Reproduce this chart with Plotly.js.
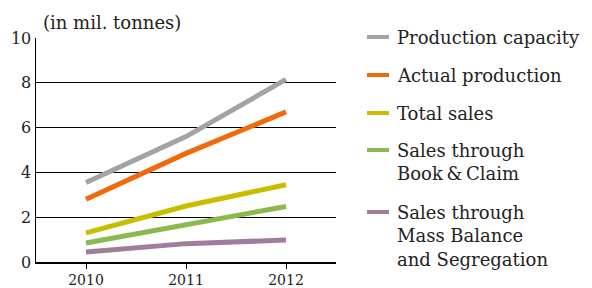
<!DOCTYPE html>
<html><head><meta charset="utf-8">
<script src="https://cdn.plot.ly/plotly-3.0.1.min.js"></script>
<style>body{margin:0;background:#fff}#c{width:592px;height:288px}</style>
</head><body><div id="c"></div>
<script>
const years = [2010, 2011, 2012];
const productionCapacity = [3.55, 5.6, 8.15];
const actualProduction = [2.8, 4.85, 6.7];
const totalSales = [1.3, 2.5, 3.45];
const bookAndClaim = [0.85, 1.67, 2.48];
const massBalance = [0.45, 0.82, 0.98];
const seriesNames = ["Production capacity", "Actual production", "Total sales", "Sales through<br>Book\u2009&amp;\u2009Claim", "Sales through<br>Mass Balance<br>and Segregation"];
const yTicks = [0, 2, 4, 6, 8, 10];
const colors = ["#a3a3a3", "#f06a0c", "#c9bd00", "#8cb84e", "#a07d9c"];
const series = [productionCapacity, actualProduction, totalSales, bookAndClaim, massBalance];

const font = "DejaVu Serif, serif";
const traces = series.map((s, i) => ({
  x: years, y: s, type: "scatter", mode: "lines",
  line: {color: colors[i], width: 5}, showlegend: false, hoverinfo: "none"
}));
traces.reverse();

const legendY = [37, 75, 113, 150, 212];
const shapes = [];
const H = 288, plotTop = 38, plotH = 224, L = 36, plotW = 300;
const annotations = [{
  text: "(in mil. tonnes)", xref: "paper", yref: "paper", x: (41 - L) / plotW, y: 1.0, xanchor: "left", yanchor: "bottom",
  yshift: 3, showarrow: false, font: {family: font, size: 18, color: "#222"}
}];
seriesNames.forEach((n, i) => {
  const py = legendY[i];
  const yp = 1 - (py - plotTop) / plotH;
  shapes.push({type: "line", xref: "paper", yref: "paper",
    x0: (367 - L) / plotW, x1: (389 - L) / plotW, y0: yp, y1: yp,
    line: {color: colors[i], width: 4}});
  annotations.push({text: n, xref: "paper", yref: "paper", x: (395 - L) / plotW, y: 1 - (py - 12 - plotTop) / plotH,
    xanchor: "left", yanchor: "top", align: "left", showarrow: false,
    font: {family: font, size: 18, color: "#222"}});
});

Plotly.newPlot("c", traces, {
  width: 592, height: 288,
  margin: {l: L, r: 592 - L - plotW, t: plotTop, b: H - plotTop - plotH},
  paper_bgcolor: "#fff", plot_bgcolor: "#fff",
  xaxis: {range: [2009.5, 2012.5], tickvals: years, ticktext: years.map(String),
    showgrid: false, zeroline: false, showline: true, linecolor: "#000", linewidth: 1.5,
    ticks: "outside", ticklen: 5, tickcolor: "#000", ticklabelstandoff: 0,
    tickfont: {family: font, size: 14, color: "#222"}},
  yaxis: {range: [0, 10], tickvals: yTicks, showgrid: true, gridcolor: "#000", gridwidth: 1,
    zeroline: false, showline: true, linecolor: "#000", linewidth: 1.5, ticks: "",
    tickfont: {family: font, size: 16, color: "#222"}},
  shapes: shapes, annotations: annotations
}, {staticPlot: true});
</script></body></html>
